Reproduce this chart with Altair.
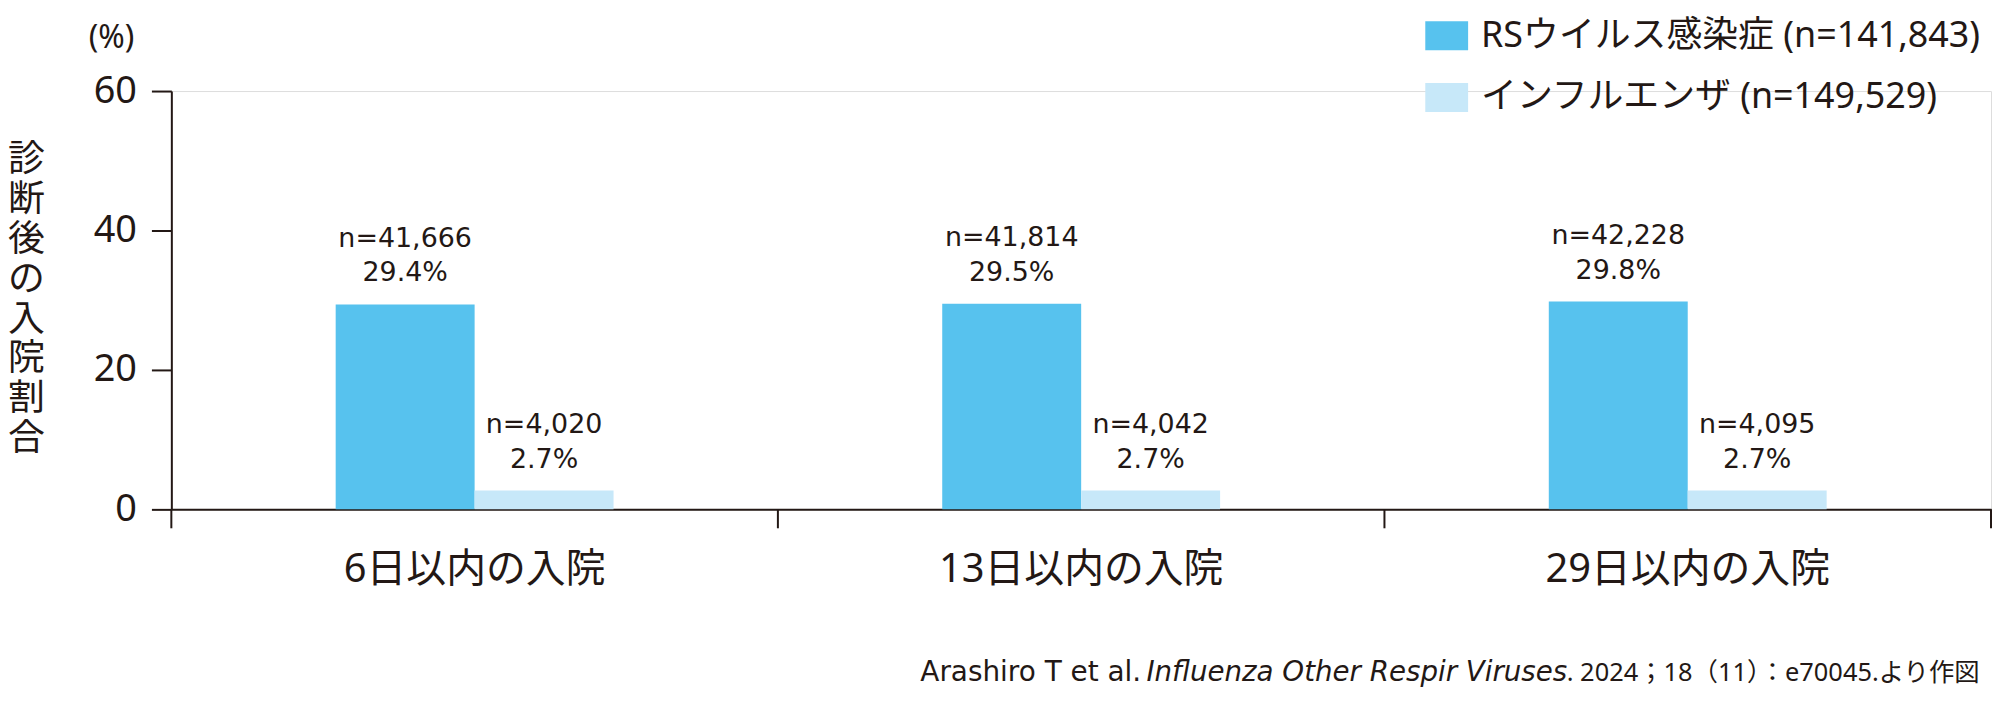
import altair as alt
import pandas as pd

# ---- data ----
categories = ["6日以内の入院", "13日以内の入院", "29日以内の入院"]
series = ["RSウイルス感染症 (n=141,843)", "インフルエンザ (n=149,529)"]
rs_pct = [29.4, 29.5, 29.8]
flu_pct = [2.7, 2.7, 2.7]
rs_n = ["41,666", "41,814", "42,228"]
flu_n = ["4,020", "4,042", "4,095"]
y_ticks = [0, 20, 40, 60]
colors = ["#57C2EE", "#C7E8F9"]

y_title = list("診断後の入院割合")
unit_label = "(%)"
src_a = "Arashiro T et al. "
src_b = "Influenza Other Respir Viruses"
src_c = ". 2024；18（11）：e70045.より作図"

INK = "#231815"
FONT = "Noto Sans, Noto Sans CJK JP"
FONT_W = "DejaVu Sans, Noto Sans CJK JP"

rows = []
for i, c in enumerate(categories):
    rows.append({"cat": c, "series": series[0], "pct": rs_pct[i],
                 "nlab": "n=" + rs_n[i], "plab": f"{rs_pct[i]:.1f}%"})
    rows.append({"cat": c, "series": series[1], "pct": flu_pct[i],
                 "nlab": "n=" + flu_n[i], "plab": f"{flu_pct[i]:.1f}%"})
df = pd.DataFrame(rows)
cat_df = pd.DataFrame({"cat": categories})

W, H = 1827, 420
BAND = W / 3
BAR = 139.5

x_enc = alt.X(
    "cat:N", sort=categories,
    scale=alt.Scale(paddingInner=0, paddingOuter=0),
    axis=alt.Axis(
        title=None, ticks=False, labelAngle=0, labelFontSize=40,
        labelFont=FONT, labelColor=INK, labelPadding=40, labelLimit=1000,
        domainColor=INK, domainWidth=2,
    ),
)
xoff_enc = alt.XOffset(
    "series:N", sort=series,
    scale=alt.Scale(paddingInner=0, paddingOuter=0,
                    range=[BAND / 2 - BAR, BAND / 2 + BAR]),
)
y_enc = alt.Y(
    "pct:Q",
    scale=alt.Scale(domain=[0, 60], nice=False),
    axis=alt.Axis(
        values=y_ticks, title=y_title, titleAngle=0, titleX=-146, titleY=51,
        titleAlign="center", titleBaseline="top", titleFontSize=37,
        titleLineHeight=40, titleFont=FONT, titleColor=INK, titleFontWeight="normal",
        labelFontSize=38, labelFont=FONT, labelColor=INK, labelPadding=15,
        tickSize=20, tickWidth=2, tickColor=INK, domainColor=INK, domainWidth=2,
        grid=False,
    ),
)

base = alt.Chart(df)

bars = base.mark_bar().encode(
    x=x_enc, xOffset=xoff_enc, y=y_enc,
    color=alt.Color(
        "series:N", sort=series,
        scale=alt.Scale(domain=series, range=colors),
        legend=alt.Legend(
            title=None, orient="none", legendX=1259, legendY=-77,
            symbolType="M-1,-0.674L1,-0.674L1,0.674L-1,0.674Z",
            symbolSize=1849, symbolStrokeWidth=0, symbolOpacity=1,
            labelFontSize=36, labelFont=FONT, labelColor=INK,
            labelLimit=1000, labelOffset=13, rowPadding=22, padding=0,
        ),
    ),
)

n_text = base.mark_text(
    fontSize=27, font=FONT_W, color=INK, align="center", baseline="alphabetic", dy=-58
).encode(x=alt.X("cat:N", sort=categories), xOffset=alt.XOffset("series:N", sort=series),
         y="pct:Q", text="nlab:N")

p_text = base.mark_text(
    fontSize=27, font=FONT_W, color=INK, align="center", baseline="alphabetic", dy=-23
).encode(x=alt.X("cat:N", sort=categories), xOffset=alt.XOffset("series:N", sort=series),
         y="pct:Q", text="plab:N")

ticks = alt.Chart(cat_df).mark_rule(color=INK, strokeWidth=2).encode(
    x=alt.X("cat:N", sort=categories, bandPosition=0),
    y=alt.value(H), y2=alt.value(H + 19),
)
tick_end = alt.Chart(cat_df).transform_filter(
    alt.datum.cat == categories[-1]
).mark_rule(color=INK, strokeWidth=2).encode(
    x=alt.X("cat:N", sort=categories, bandPosition=1),
    y=alt.value(H), y2=alt.value(H + 19),
)

unit = alt.Chart(pd.DataFrame({"t": [unit_label]})).mark_text(
    fontSize=32, font=FONT, color=INK, align="center", baseline="middle"
).encode(text="t:N", x=alt.value(-60), y=alt.value(-53))

src1 = alt.Chart(pd.DataFrame({"t": [src_a]})).mark_text(
    fontSize=28, font=FONT_W, color=INK, align="left", baseline="alphabetic"
).encode(text="t:N", x=alt.value(752), y=alt.value(592))
src2 = alt.Chart(pd.DataFrame({"t": [src_b]})).mark_text(
    fontSize=27.8, font=FONT_W, fontStyle="italic", color=INK, align="left", baseline="alphabetic"
).encode(text="t:N", x=alt.value(979), y=alt.value(592))
src3 = alt.Chart(pd.DataFrame({"t": [src_c]})).mark_text(
    fontSize=25.5, font=FONT, color=INK, align="left", baseline="alphabetic"
).encode(text="t:N", x=alt.value(1401), y=alt.value(592))

chart = alt.layer(
    bars, n_text, p_text, ticks, tick_end, unit, src1, src2, src3
).properties(
    width=W, height=H,
    padding={"left": 164, "top": 82, "right": 1, "bottom": 185},
    autosize=alt.AutoSizeParams(type="none"),
).configure_view(stroke=None).configure(background="white")

chart.save("out.html", embed_options={"renderer": "svg", "actions": False})
